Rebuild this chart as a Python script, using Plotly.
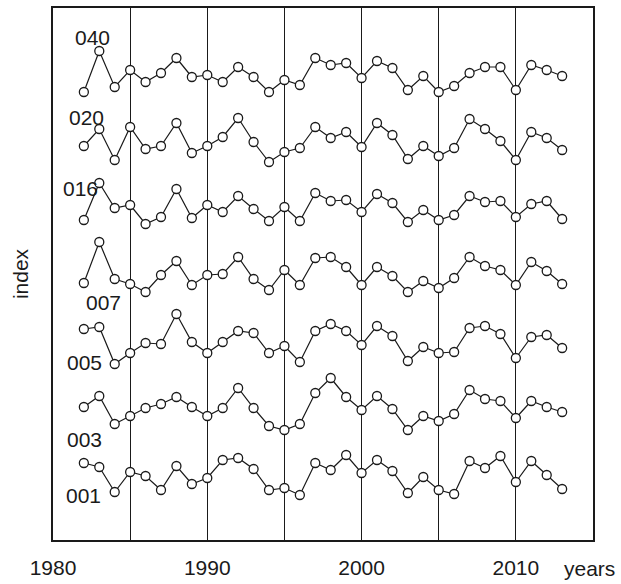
import plotly.graph_objects as go

years = list(range(1982, 2014))

series_names = ["001", "003", "005", "007", "016", "020", "040"]
offsets = [6, 13, 20, 27, 33, 40, 47]

s001 = [1.7, 1.3, -1.2, 0.8, 0.4, -1.0, 1.4, -0.4, 0.2, 2.0, 2.2, 1.1, -1.0, -0.8, -1.5, 1.7,
        1.0, 2.5, 0.7, 2.0, 0.9, -1.3, 0.3, -1.0, -1.4, 1.9, 1.2, 2.4, -0.2, 1.9, 0.5, -0.9]
s003 = [0.3, 1.4, -1.4, -0.6, 0.2, 0.6, 1.3, 0.3, -0.6, 0.2, 2.2, 0.2, -1.6, -2.0, -1.4, 1.7,
        3.2, 1.3, 0.0, 1.4, 0.1, -2.0, -0.6, -1.1, -0.4, 2.0, 1.1, 0.9, -0.8, 0.9, 0.3, -0.2]
s005 = [1.1, 1.3, -2.4, -1.3, -0.3, -0.4, 2.6, -0.2, -1.3, -0.2, 0.9, 0.7, -1.3, -0.6, -2.2, 0.9,
        1.6, 0.9, -0.5, 1.4, 0.4, -2.1, -0.7, -1.3, -1.2, 1.2, 1.4, 0.6, -1.8, 0.3, 0.5, -0.8]
s007 = [-1.3, 2.8, -0.9, -1.4, -2.2, -0.5, 0.9, -1.5, -0.5, -0.4, 1.3, -0.9, -2.0, 0.0, -1.5, 1.2,
        1.3, 0.3, -1.5, 0.3, -0.6, -2.2, -1.1, -1.8, -0.8, 1.3, 0.4, 0.0, -1.5, 0.8, -0.1, -1.4]
s016 = [-1.0, 2.7, 0.2, 0.5, -1.4, -0.7, 2.1, -0.8, 0.5, -0.2, 1.4, 0.1, -1.1, 0.3, -1.1, 1.7,
        0.9, 1.0, -0.2, 1.6, 0.7, -1.2, 0.0, -1.0, -0.5, 1.4, 0.8, 0.9, -0.7, 0.6, 0.9, -0.9]
s020 = [-0.6, 1.1, -2.0, 1.3, -0.9, -0.6, 1.7, -1.3, -0.6, 0.3, 2.2, -0.2, -2.2, -1.2, -0.8, 1.3,
        0.2, 0.8, -0.7, 1.7, 0.5, -1.9, -0.6, -1.6, -0.8, 2.1, 1.1, -0.1, -2.0, 0.8, 0.2, -1.0]
s040 = [-2.2, 1.9, -1.7, 0.0, -1.2, -0.3, 1.2, -0.7, -0.5, -1.2, 0.3, -0.7, -2.2, -1.0, -1.5, 1.2,
        0.5, 0.7, -0.8, 0.9, 0.2, -2.0, -0.6, -2.2, -1.6, -0.3, 0.3, 0.3, -2.0, 0.5, 0.0, -0.6]

all_series = [s001, s003, s005, s007, s016, s020, s040]

# label positions (year, index units)
label_x = [1982.0, 1982.07, 1982.07, 1983.3, 1981.75, 1982.2, 1982.53]
label_y = [4.5, 10.1, 17.8, 23.8, 35.2, 42.3, 50.3]

FONT = "Liberation Sans, Arial, sans-serif"
INK = "#1a1a1a"

fig = go.Figure()
for name, vals, off in zip(series_names, all_series, offsets):
    fig.add_trace(go.Scatter(
        x=years, y=[v + off for v in vals], mode="lines+markers", name=name,
        line=dict(color=INK, width=1.2),
        marker=dict(symbol="circle", size=9, color="white",
                    line=dict(color=INK, width=1.3)),
        showlegend=False, hoverinfo="skip"))

annotations = []
for name, lx, ly in zip(series_names, label_x, label_y):
    annotations.append(dict(x=lx, y=ly, xref="x", yref="y", text=name, showarrow=False,
                            font=dict(family=FONT, size=21, color=INK),
                            xanchor="center", yanchor="middle"))
annotations.append(dict(x=2014.75, y=0, xref="x", yref="paper", yshift=-28, text="years",
                        showarrow=False, font=dict(family=FONT, size=21, color=INK),
                        xanchor="center", yanchor="middle"))

fig.update_layout(
    width=621, height=584,
    margin=dict(l=53, r=28, t=8, b=44, pad=0, autoexpand=False),
    paper_bgcolor="white", plot_bgcolor="white",
    font=dict(family=FONT, size=21, color=INK),
    annotations=annotations,
    xaxis=dict(range=[1980, 2015], tickmode="array", tickvals=[1980, 1990, 2000, 2010],
               ticktext=["1980", "1990", "2000", "2010"], ticks="", ticklabelstandoff=8,
               showgrid=True, gridcolor=INK, gridwidth=1.3, automargin=False,
               minor=dict(tickmode="array", tickvals=[1985, 1995, 2005], showgrid=True,
                          gridcolor=INK, gridwidth=1.3, ticks=""),
               showline=True, linecolor=INK, linewidth=1.6, mirror=True,
               zeroline=False, tickfont=dict(size=21)),
    yaxis=dict(range=[0, 53.2], showticklabels=False, ticks="", showgrid=False,
               zeroline=False, showline=True, linecolor=INK, linewidth=1.6, automargin=False,
               mirror=True, title=dict(text="index", font=dict(size=21), standoff=17)),
)

fig.write_html("out.html")
